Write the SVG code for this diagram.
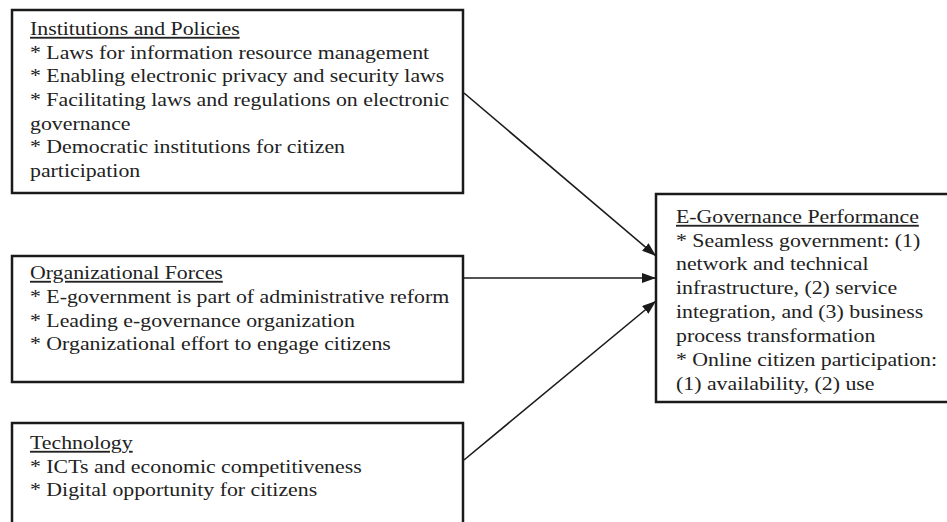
<svg xmlns="http://www.w3.org/2000/svg" width="947" height="522" viewBox="0 0 947 522">
<style>
.box{fill:#fff;stroke:#1a1a1a;stroke-width:2.5}
.t{font-family:"Liberation Serif","Times New Roman",serif;font-size:18.5px;fill:#222}
.u{text-decoration:underline}
.c{stroke:#1a1a1a;stroke-width:1.6;fill:none}
</style>
<defs>
<marker id="ah" markerWidth="14" markerHeight="10" refX="14" refY="5" orient="auto" markerUnits="userSpaceOnUse">
<path d="M0,0 L14,5 L0,10 Z" fill="#1a1a1a"/>
</marker>
</defs>
<rect width="947" height="522" fill="#fff"/>
<g id="connectors">
<line class="c" x1="464" y1="93" x2="656" y2="256" marker-end="url(#ah)"/>
<line class="c" x1="464" y1="278" x2="656" y2="278" marker-end="url(#ah)"/>
<line class="c" x1="464" y1="460" x2="656" y2="301" marker-end="url(#ah)"/>
</g>
<g id="institutions">
<rect class="box" x="12" y="10" width="451" height="183"/>
<g transform="translate(30,0) scale(1.18,1)" class="t">
<text class="t u" x="0" y="35">Institutions and Policies</text>
<text class="t" x="0" y="59">* Laws for information resource management</text>
<text class="t" x="0" y="82">* Enabling electronic privacy and security laws</text>
<text class="t" x="0" y="106">* Facilitating laws and regulations on electronic</text>
<text class="t" x="0" y="130">governance</text>
<text class="t" x="0" y="153">* Democratic institutions for citizen</text>
<text class="t" x="0" y="177">participation</text>
</g>
</g>
<g id="organizational">
<rect class="box" x="12" y="256" width="451" height="126"/>
<g transform="translate(30,0) scale(1.18,1)">
<text class="t u" x="0" y="279">Organizational Forces</text>
<text class="t" x="0" y="303">* E-government is part of administrative reform</text>
<text class="t" x="0" y="327">* Leading e-governance organization</text>
<text class="t" x="0" y="350">* Organizational effort to engage citizens</text>
</g>
</g>
<g id="technology">
<rect class="box" x="12" y="423" width="451" height="110"/>
<g transform="translate(30,0) scale(1.18,1)">
<text class="t u" x="0" y="449">Technology</text>
<text class="t" x="0" y="473">* ICTs and economic competitiveness</text>
<text class="t" x="0" y="496">* Digital opportunity for citizens</text>
</g>
</g>
<g id="performance">
<rect class="box" x="656" y="194" width="300" height="208"/>
<g transform="translate(676,0) scale(1.18,1)">
<text class="t u" x="0" y="223">E-Governance Performance</text>
<text class="t" x="0" y="247">* Seamless government: (1)</text>
<text class="t" x="0" y="270">network and technical</text>
<text class="t" x="0" y="294">infrastructure, (2) service</text>
<text class="t" x="0" y="318">integration, and (3) business</text>
<text class="t" x="0" y="342">process transformation</text>
<text class="t" x="0" y="366">* Online citizen participation:</text>
<text class="t" x="0" y="390">(1) availability, (2) use</text>
</g>
</g>
</svg>
